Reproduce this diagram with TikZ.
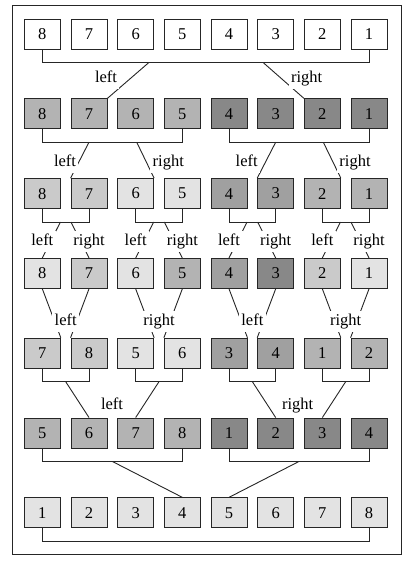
\documentclass[tikz,border=0pt]{standalone}
\usepackage{fontspec}
\setmainfont{Liberation Serif}
\usetikzlibrary{calc}

\definecolor{shA}{HTML}{E3E3E3}
\definecolor{shB}{HTML}{CACACA}
\definecolor{shC}{HTML}{B3B3B3}
\definecolor{shD}{HTML}{A0A0A0}
\definecolor{shE}{HTML}{888888}

\tikzset{
    box/.style={draw=black!85, line width=0.9pt, minimum width=36pt, minimum height=30pt,
        inner sep=0pt, font=\fontsize{16.5}{18}\selectfont},
    lbl/.style={fill=white, inner xsep=2.5pt, inner ysep=3pt, text height=11pt, text depth=3.5pt,
        font=\fontsize{16.5}{18}\selectfont},
    link/.style={line width=0.9pt, black!85}
}

\begin{document}
\begin{tikzpicture}[x=1pt,y=-1pt]
        \useasboundingbox (0,0) rectangle (418,572);
        \draw[link] (12,5) rectangle (401,554);
        
        % the seven rows of boxes
        \foreach \v/\c [count=\i] in {8/white,7/white,6/white,5/white,4/white,3/white,2/white,1/white}
            \node[box,fill=\c] (a\i) at ({42.33+46.67*(\i-1)},34) {\v};
        \foreach \v/\c [count=\i] in {8/shC,7/shC,6/shC,5/shC,4/shE,3/shE,2/shE,1/shE}
            \node[box,fill=\c] (b\i) at ({42.33+46.67*(\i-1)},113.8) {\v};
        \foreach \v/\c [count=\i] in {8/shB,7/shB,6/shA,5/shA,4/shD,3/shD,2/shC,1/shC}
            \node[box,fill=\c] (c\i) at ({42.33+46.67*(\i-1)},193.6) {\v};
        \foreach \v/\c [count=\i] in {8/shA,7/shB,6/shA,5/shC,4/shD,3/shE,2/shB,1/shA}
            \node[box,fill=\c] (d\i) at ({42.33+46.67*(\i-1)},273.4) {\v};
        \foreach \v/\c [count=\i] in {7/shB,8/shB,5/shA,6/shA,3/shD,4/shD,1/shC,2/shC}
            \node[box,fill=\c] (e\i) at ({42.33+46.67*(\i-1)},353.2) {\v};
        \foreach \v/\c [count=\i] in {5/shC,6/shC,7/shC,8/shC,1/shE,2/shE,3/shE,4/shE}
            \node[box,fill=\c] (f\i) at ({42.33+46.67*(\i-1)},433) {\v};
        \foreach \v [count=\i] in {1,2,3,4,5,6,7,8}
            \node[box,fill=shA] (g\i) at ({42.33+46.67*(\i-1)},512.8) {\v};
        
        % brackets
        \draw[link] (a1.south) -- ++(0,13) -| (a8.south);
        \draw[link] (b1.south) -- ++(0,13) -| (b4.south);
        \draw[link] (b5.south) -- ++(0,13) -| (b8.south);
        \foreach \p/\q in {1/2,3/4,5/6,7/8}
            \draw[link] (c\p.south) -- ++(0,13) -| (c\q.south);
        \foreach \p/\q in {1/2,3/4,5/6,7/8}
            \draw[link] (e\p.south) -- ++(0,13) -| (e\q.south);
        \draw[link] (f1.south) -- ++(0,13) -| (f4.south);
        \draw[link] (f5.south) -- ++(0,13) -| (f8.south);
        \draw[link] (g1.south) -- ++(0,13) -| (g8.south);
        
        % row 1 to row 2
        \coordinate (al) at (149,62.4);
        \coordinate (ar) at (263,62.4);
        \draw[link] (al) -- (b2.north east);
        \draw[link] (ar) -- (b7.north west);
        \node[lbl] (la) at (106,79) {left};
        \node[lbl] (ra) at (306.7,79) {right};
        
        % row 2 to row 3
        \coordinate (bl1) at (89,142.2);
        \coordinate (br1) at (136.7,142.2);
        \coordinate (bl2) at (275.7,142.2);
        \coordinate (br2) at (323.3,142.2);
        \draw[link] (bl1) -- (c2.north west);
        \draw[link] (br1) -- (c3.north east);
        \draw[link] (bl2) -- (c6.north west);
        \draw[link] (br2) -- (c7.north east);
        \node[lbl] (lb1) at (65,162.3) {left};
        \node[lbl] (rb1) at (168.3,162.3) {right};
        \node[lbl] (lb2) at (246.7,162.3) {left};
        \node[lbl] (rb2) at (355,162.3) {right};
        
        % row 3 to row 4
        \foreach \k/\p/\q in {1/1/2,2/3/4,3/5/6,4/7/8} {
            \coordinate (cl\k) at ($(c\p.south)!.5!(c\q.south)+(-5.3,13)$);
            \coordinate (cr\k) at ($(c\p.south)!.5!(c\q.south)+(5.3,13)$);
            \draw[link] (cl\k) -- (d\p.north);
            \draw[link] (cr\k) -- (d\q.north);
            \node[lbl] (lc\k) at ($(d\p.north)+(0,-16.7)$) {left};
            \node[lbl] (rc\k) at ($(d\q.north)+(0,-16.7)$) {right};
        }
        
        % row 4 to row 5
        \foreach \k/\p/\q/\t in {1/1/2/left,2/3/4/right,3/5/6/left,4/7/8/right} {
            \draw[link] (d\p.south) -- (e\p.north east);
            \draw[link] (d\q.south) -- (e\q.north west);
            \node[lbl] (ld\k) at ($(e\p.north east)!.5!(e\q.north west)+(0,-16.5)$) {\t};
        }
        
        % row 5 to row 6
        \foreach \k/\p/\q in {1/1/2,2/3/4,3/5/6,4/7/8}
            \coordinate (em\k) at ($(e\p.south)!.5!(e\q.south)+(0,13)$);
        \draw[link] (em1) -- (f2.north);
        \draw[link] (em2) -- (f3.north);
        \draw[link] (em3) -- (f6.north);
        \draw[link] (em4) -- (f7.north);
        \node[lbl] (le) at (112,405.7) {left};
        \node[lbl] (re) at (297.7,405.7) {right};
        
        % row 6 to row 7
        \coordinate (fl) at ($(f1.south)!.5!(f4.south)+(0,13)$);
        \coordinate (fr) at ($(f5.south)!.5!(f8.south)+(0,13)$);
        \draw[link] (fl) -- (g4.north);
        \draw[link] (fr) -- (g5.north);
        
    \end{tikzpicture}
\end{document}
